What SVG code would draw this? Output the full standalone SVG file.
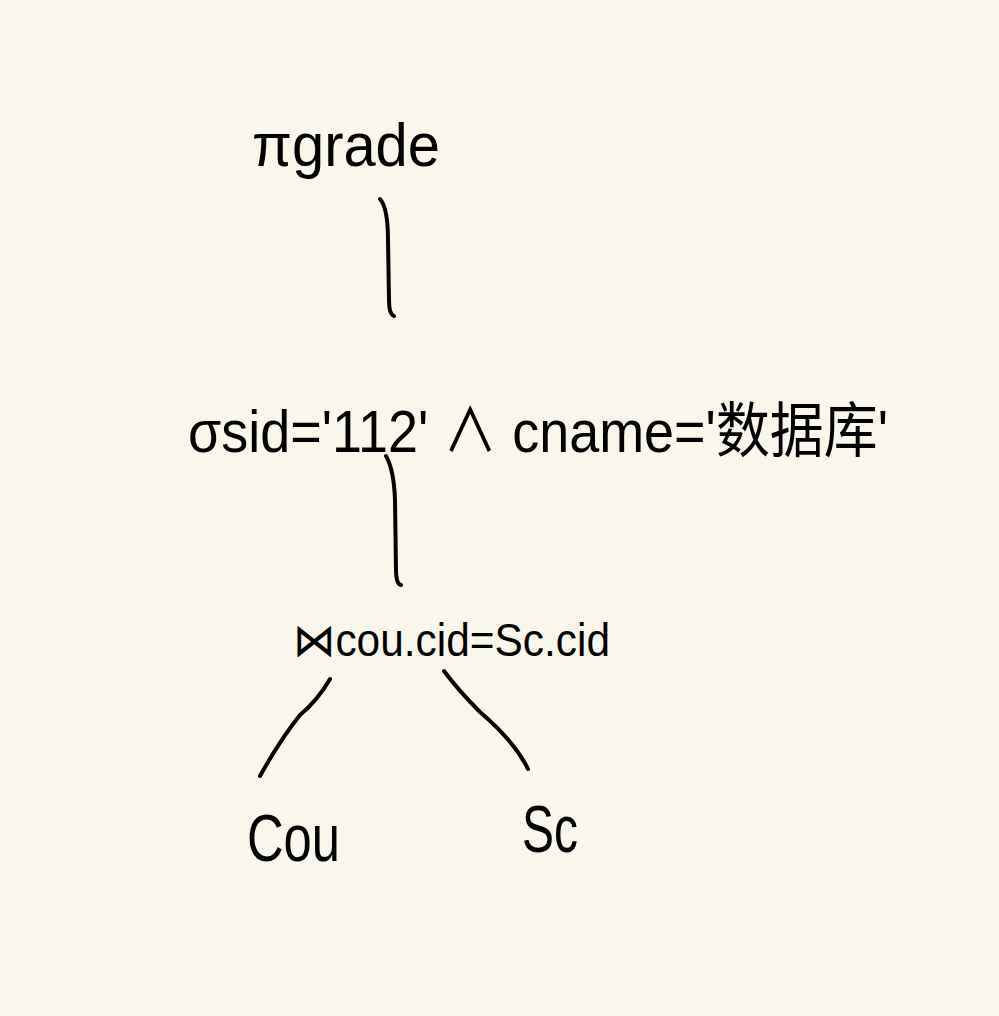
<svg xmlns="http://www.w3.org/2000/svg" width="999" height="1016" viewBox="0 0 999 1016">
<style>
.t{font-family:"Liberation Sans","Noto Sans CJK SC",sans-serif;fill:#000}
.c{fill:none;stroke:#000;stroke-width:4;stroke-linecap:round;stroke-linejoin:round}
</style>
<rect width="999" height="1016" fill="#f9f7ec"/>
<g id="node-project">
<text class="t" x="252" y="166" font-size="62" textLength="188" lengthAdjust="spacingAndGlyphs">πgrade</text>
</g>
<g id="node-select">
<text class="t" x="188" y="452" font-size="60" textLength="700" lengthAdjust="spacingAndGlyphs">σsid='112' ∧ cname='数据库'</text>
</g>
<g id="node-join">
<text class="t" x="293" y="656" font-size="46" textLength="317" lengthAdjust="spacingAndGlyphs">⋈cou.cid=Sc.cid</text>
</g>
<g id="node-cou">
<text class="t" x="247" y="861" font-size="66" textLength="93" lengthAdjust="spacingAndGlyphs">Cou</text>
</g>
<g id="node-sc">
<text class="t" x="522" y="852" font-size="66" textLength="56" lengthAdjust="spacingAndGlyphs">Sc</text>
</g>
<g id="connectors">
<path class="c" d="M380 199 Q388 208 388 240 L389 300 Q389 314 394 316"/>
<path class="c" d="M386 456 Q394 470 395 500 L396 570 Q396 584 401 585"/>
<path class="c" d="M330 679 Q318 700 300 715 Q280 740 260 776"/>
<path class="c" d="M444 671 Q458 690 480 712 Q515 742 528 769"/>
</g>
</svg>
